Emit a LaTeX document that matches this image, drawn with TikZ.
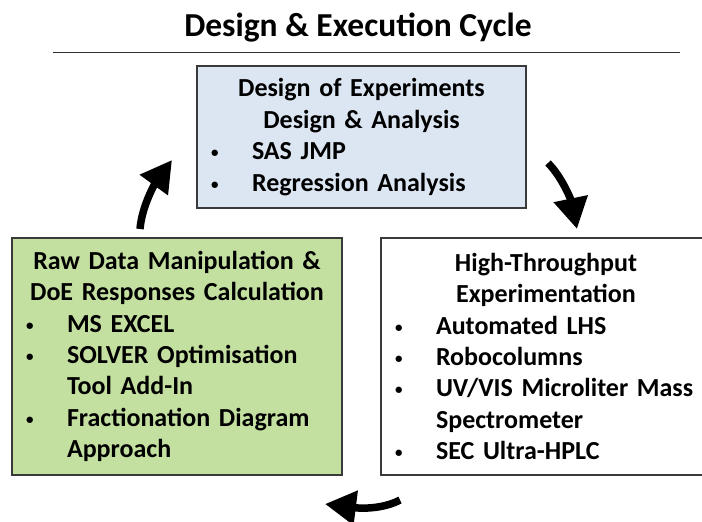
\documentclass[tikz,border=0pt]{standalone}
\usepackage{fontspec}
\setmainfont{Carlito}
\usepackage{tikz}
\usepackage{xcolor}
\usetikzlibrary{arrows.meta,positioning,calc}
\definecolor{edge}{HTML}{3A3A3A}
\definecolor{doeblue}{HTML}{DCE6F2}
\definecolor{rawgreen}{HTML}{C4E0A0}
\definecolor{rule}{HTML}{303030}
\newlength{\bulletw}
\setlength{\bulletw}{41pt}
\newcommand{\bitem}[1]{\makebox[\bulletw][l]{\raisebox{2pt}{\fontsize{15}{15}\selectfont\textbullet}}#1}
\newcommand{\bcont}[1]{\hspace*{\bulletw}#1}
\tikzset{
  stagebox/.style={draw=edge, line width=1.4pt, align=left, inner xsep=14pt,
                   inner ysep=0pt, outer sep=0pt,
                   font=\bfseries\fontsize{26}{31.4}\selectfont},
  cyclearrow/.style={-{Triangle[length=31pt,width=33pt]}, line width=7.5pt, draw=black},
  titletext/.style={font=\bfseries\fontsize{33.5}{38}\selectfont}
}

\begin{document}
\begin{tikzpicture}[x=1pt,y=-1pt]
    \path[use as bounding box, clip] (0,0) rectangle (702,522);
    \node[titletext] (title) at (358,28) {Design \& Execution Cycle};
    \draw[rule, line width=1.5pt] (53,52.5) -- (680,52.5);
    % the three stages
    \node[stagebox, fill=doeblue, text width=301pt, minimum height=142pt] (doe) at (361.5,137)
      {{\centering Design of Experiments\\Design \& Analysis\par}
       \bitem{SAS JMP}\\
       \bitem{Regression Analysis}};
    \node[stagebox, fill=rawgreen, text width=302pt, minimum height=237pt] (rawdata) at (177,356.5)
      {{\centering Raw Data Manipulation \&\\DoE Responses Calculation\par}
       \bitem{MS EXCEL}\\
       \bitem{SOLVER Optimisation}\\
       \bcont{Tool Add-In}\\
       \bitem{Fractionation Diagram}\\
       \bcont{Approach}};
    \node[stagebox, fill=white, text width=302pt, minimum height=237pt] (hte) at (546,356.5)
      {{\centering High-Throughput\\Experimentation\par}
       \bitem{Automated LHS}\\
       \bitem{Robocolumns}\\
       \bitem{UV/VIS Microliter Mass}\\
       \bcont{Spectrometer}\\
       \bitem{SEC Ultra-HPLC}};
    % cycle arrows
    \coordinate (upfrom) at (140,229);
    \coordinate (upto) at (172,160);
    \coordinate (downfrom) at (548,163);
    \coordinate (downto) at (577,229);
    \coordinate (backfrom) at (400,500);
    \coordinate (backto) at (325,504);
    \draw[cyclearrow] (upfrom) .. controls (142,205) and (156,182) .. (upto);
    \draw[cyclearrow] (downfrom) .. controls (562,177) and (571,200) .. (downto);
    \draw[cyclearrow] (backfrom) .. controls (385,508) and (365,509) .. (backto);
  \end{tikzpicture}
\end{document}
